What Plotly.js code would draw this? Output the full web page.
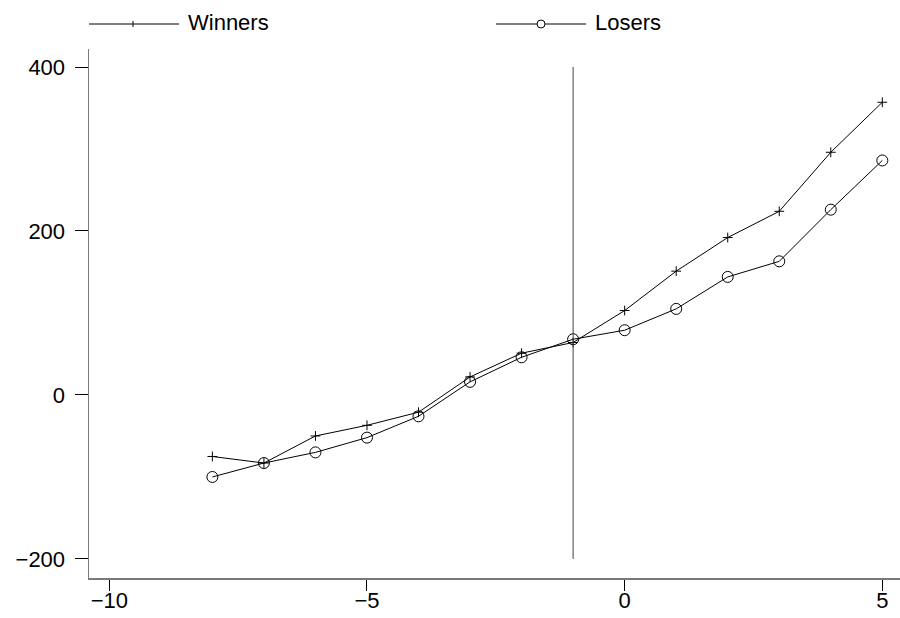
<!DOCTYPE html>
<html>
<head>
<meta charset="utf-8">
<script src="https://cdn.plot.ly/plotly-3.0.1.min.js"></script>
<style>
  html, body { margin: 0; padding: 0; background: #fff; }
  #chart { width: 900px; height: 618px; }
</style>
</head>
<body>
<div id="chart"></div>
<script>
// Relative period (x) and the two series
const periods = [-8, -7, -6, -5, -4, -3, -2, -1, 0, 1, 2, 3, 4, 5];
const winners = [-75, -83, -50, -37, -21, 22, 51, 64, 103, 151, 192, 224, 296, 357];
const losers  = [-100, -83, -70, -52, -26, 16, 46, 68, 79, 105, 144, 163, 226, 286];

// Tick values
const xTicks = [-10, -5, 0, 5];
const yTicks = [-200, 0, 200, 400];
const xTickText = ['\u221210', '\u22125', '0', '5'];
const yTickText = ['\u2212200', '0', '200', '400'];

// Vertical reference line
const cutoff = -1;
const cutoffSpan = [-200, 400];

const seriesNames = ['Winners', 'Losers'];

const W = 900, H = 618;
const M = { l: 89, r: 0, t: 49, b: 40 };
const plotW = W - M.l - M.r, plotH = H - M.t - M.b;
// pixel -> paper helpers for the hand-drawn key above the plot
const px = v => (v - M.l) / plotW;
const py = v => (H - M.b - v) / plotH;

const FONT = 'Liberation Sans, Arial, Helvetica, sans-serif';

const traces = [
  {
    x: periods, y: winners, name: seriesNames[0], type: 'scatter', mode: 'lines+markers',
    line: { color: '#000', width: 1 },
    marker: { symbol: 'cross-thin', size: 7, color: '#000', line: { color: '#000', width: 1 } }
  },
  {
    x: periods, y: losers, name: seriesNames[1], type: 'scatter', mode: 'lines+markers',
    line: { color: '#000', width: 1 },
    marker: { symbol: 'circle-open', size: 11, color: '#000', line: { color: '#000', width: 1 } }
  }
];

// Key: line + symbol + label for each series
const keyY = 24;
const keys = [
  { x0: 89, x1: 179, mx: 133, tx: 186, sym: 'plus', label: seriesNames[0] },
  { x0: 496, x1: 586, mx: 541, tx: 593, sym: 'circle', label: seriesNames[1] }
];

const shapes = [
  {
    type: 'line', xref: 'x', yref: 'y',
    x0: cutoff, x1: cutoff, y0: cutoffSpan[0], y1: cutoffSpan[1],
    line: { color: '#444', width: 1 }
  }
];
const annotations = [];

keys.forEach(k => {
  shapes.push({
    type: 'line', xref: 'paper', yref: 'paper',
    x0: px(k.x0), x1: px(k.x1), y0: py(keyY), y1: py(keyY),
    line: { color: '#000', width: 1 }
  });
  if (k.sym === 'plus') {
    shapes.push({
      type: 'line', xref: 'paper', yref: 'paper',
      x0: px(k.mx), x1: px(k.mx), y0: py(keyY - 3), y1: py(keyY + 3),
      line: { color: '#000', width: 1 }
    });
  } else {
    shapes.push({
      type: 'circle', xref: 'paper', yref: 'paper',
      x0: px(k.mx - 4), x1: px(k.mx + 4), y0: py(keyY + 4), y1: py(keyY - 4),
      line: { color: '#000', width: 1 }, fillcolor: '#fff'
    });
  }
  annotations.push({
    xref: 'paper', yref: 'paper', x: px(k.tx), y: py(keyY - 1),
    xanchor: 'left', yanchor: 'middle', showarrow: false,
    text: k.label, font: { family: FONT, size: 22, color: '#000' }
  });
});

const layout = {
  width: W, height: H,
  margin: M,
  paper_bgcolor: '#fff', plot_bgcolor: '#fff',
  showlegend: false,
  font: { family: FONT, size: 22, color: '#000' },
  xaxis: {
    range: [-10.394, 5.343],
    tickvals: xTicks, ticktext: xTickText,
    showgrid: false, zeroline: false,
    showline: true, linecolor: '#7a7a7a', linewidth: 1.5,
    ticks: 'outside', ticklen: 11, tickwidth: 1, tickcolor: '#000',
    ticklabelstandoff: -9,
    tickfont: { family: FONT, size: 22, color: '#000' }
  },
  yaxis: {
    range: [-223.2, 421.95],
    tickvals: yTicks, ticktext: yTickText,
    showgrid: false, zeroline: false,
    showline: true, linecolor: '#7a7a7a', linewidth: 1.5,
    ticks: 'outside', ticklen: 13, tickwidth: 1, tickcolor: '#000',
    ticklabelstandoff: 5,
    tickfont: { family: FONT, size: 22, color: '#000' }
  },
  shapes: shapes,
  annotations: annotations
};

Plotly.newPlot('chart', traces, layout, { staticPlot: true, displayModeBar: false });
</script>
</body>
</html>
